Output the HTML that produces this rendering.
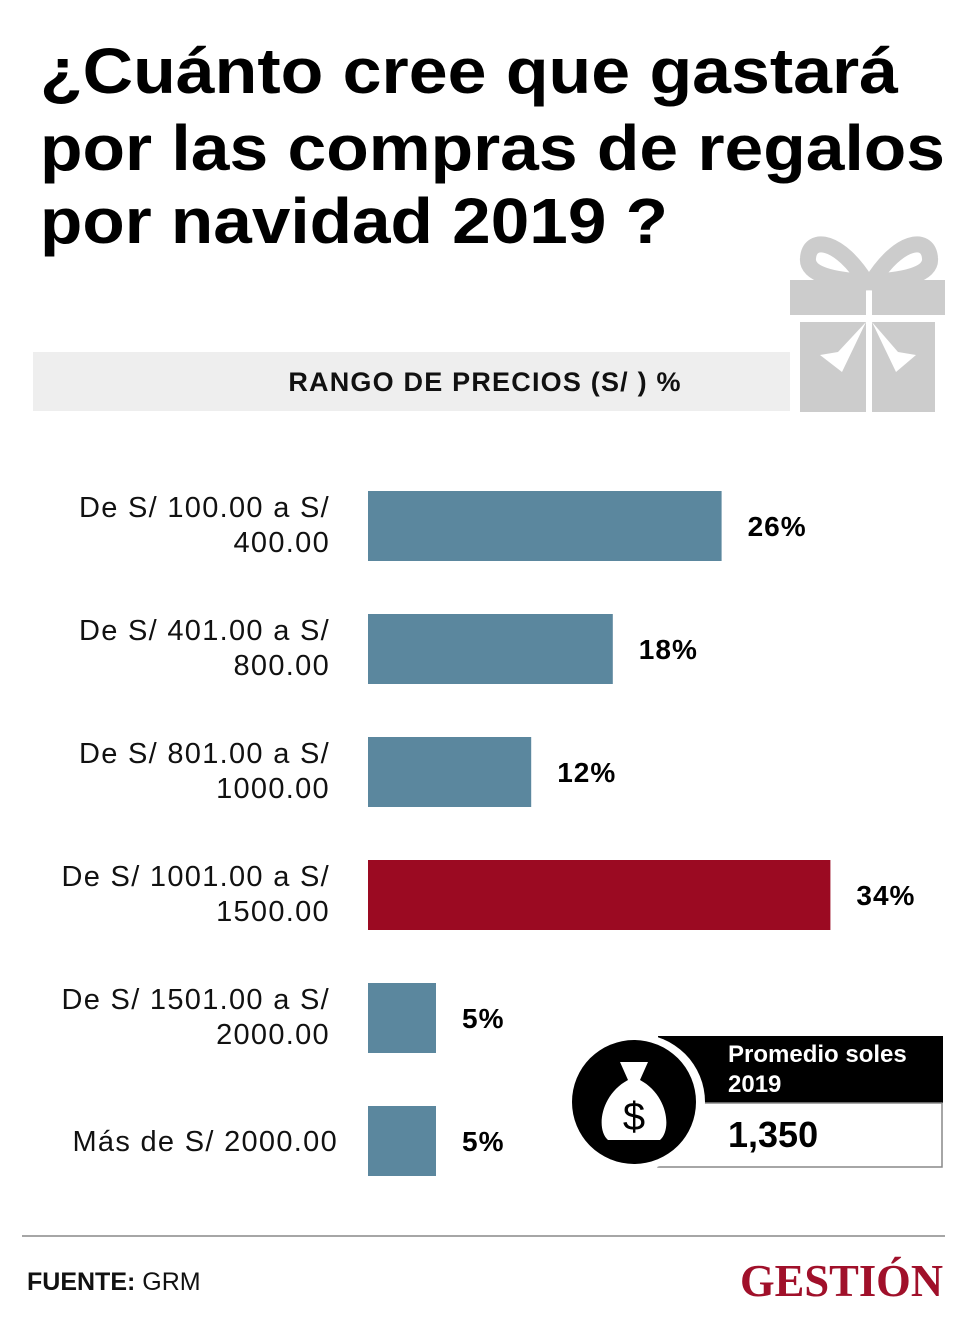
<!DOCTYPE html>
<html><head><meta charset="utf-8"><style>
html,body{margin:0;padding:0;background:#fff;}
svg{display:block;font-family:"Liberation Sans",sans-serif;}
</style></head><body>
<svg id="chart" width="980" height="1328" viewBox="0 0 980 1328" xmlns="http://www.w3.org/2000/svg">
<g font-weight="bold" font-size="64" fill="#000">
<text x="40" y="93" textLength="858" lengthAdjust="spacingAndGlyphs">¿Cuánto cree que gastará</text>
<text x="40" y="170" textLength="905" lengthAdjust="spacingAndGlyphs">por las compras de regalos</text>
<text x="40" y="243" textLength="628" lengthAdjust="spacingAndGlyphs">por navidad 2019 ?</text>
</g>
<rect x="33" y="352" width="757" height="59" fill="#eeeeee"/>
<text x="485" y="391" text-anchor="middle" font-weight="bold" font-size="27" letter-spacing="1.2" fill="#111">RANGO DE PRECIOS (S/ ) %</text>
<g fill="#cccccc">
<path d="M866 282 C840 240 810 235 808 258 C806 275 835 280 866 282 Z" fill="none" stroke="#cccccc" stroke-width="16"/>
<path d="M872 282 C898 240 928 235 930 258 C932 275 903 280 872 282 Z" fill="none" stroke="#cccccc" stroke-width="16"/>
<rect x="790" y="280" width="76" height="35"/>
<rect x="872" y="280" width="73" height="35"/>
<rect x="800" y="322" width="66" height="90"/>
<rect x="872" y="322" width="63" height="90"/>
<path d="M866 322 L838 352 L820 355 L842 372 Z M872 322 L898 352 L916 355 L896 372 Z" fill="#fff"/>
</g>
<g id="bars"></g>
<g>
<rect x="658" y="1036" width="285" height="67" fill="#000"/>
<rect x="658" y="1103" width="284" height="64" fill="#fff" stroke="#888" stroke-width="1.5"/>
<circle cx="637" cy="1102" r="68" fill="#fff"/>
<circle cx="634" cy="1102" r="62" fill="#000"/>
<path d="M620 1062 L648 1062 L640 1080 C668 1095 672 1130 660 1140 L608 1140 C596 1130 600 1095 628 1080 Z" fill="#fff"/>
<text x="634" y="1130" text-anchor="middle" font-size="40" fill="#000">$</text>
<text x="728" y="1062" font-weight="bold" font-size="24" fill="#fff">Promedio soles</text>
<text x="728" y="1092" font-weight="bold" font-size="24" fill="#fff">2019</text>
<text x="728" y="1147" font-weight="bold" font-size="36" fill="#000">1,350</text>
</g>
<line x1="22" y1="1236" x2="945" y2="1236" stroke="#888" stroke-width="1.5"/>
<text x="27" y="1290" font-size="25" fill="#111"><tspan font-weight="bold">FUENTE:</tspan> GRM</text>
<text x="943" y="1296" text-anchor="end" font-family="Liberation Serif,serif" font-weight="bold" font-size="46" fill="#a0102a" textLength="203" lengthAdjust="spacingAndGlyphs">GESTIÓN</text>
</svg>
<script>
const categories = [["De S/ 100.00 a S/","400.00"],["De S/ 401.00 a S/","800.00"],["De S/ 801.00 a S/","1000.00"],["De S/ 1001.00 a S/","1500.00"],["De S/ 1501.00 a S/","2000.00"],["Más de S/ 2000.00"]];
const values = [26, 18, 12, 34, 5, 5];
const highlight = [false, false, false, true, false, false];
const NS = "http://www.w3.org/2000/svg";
const x0 = 368, pxPer = 13.6, y0 = 491, step = 123, bh = 70;
function xScale(v){ return v * pxPer; }
function yPos(i){ return y0 + i * step; }
const g = document.getElementById("bars");
values.forEach((v, i) => {
  const y = yPos(i);
  const r = document.createElementNS(NS, "rect");
  
  
  r.setAttribute("x", x0); r.setAttribute("y", y);
  r.setAttribute("width", xScale(v)); r.setAttribute("height", bh);
  r.setAttribute("fill", highlight[i] ? "#9b0a22" : "#5b879e");
  g.appendChild(r);
  const t = document.createElementNS(NS, "text");
  
  
  t.setAttribute("x", x0 + xScale(v) + 26); t.setAttribute("y", y + bh/2 + 10);
  t.setAttribute("font-weight", "bold"); t.setAttribute("font-size", "28"); t.setAttribute("letter-spacing", "1");
  t.textContent = v + "%";
  g.appendChild(t);
  const lines = categories[i];
  const lab = document.createElementNS(NS, "text");
  
  
  lab.setAttribute("text-anchor", "end"); lab.setAttribute("font-size", "29"); lab.setAttribute("letter-spacing", "1.3"); lab.setAttribute("fill", "#111");
  const xr = lines.length === 1 ? 338 : 330;
  lines.forEach((ln, j) => {
    const s = document.createElementNS(NS, "tspan");
    s.setAttribute("x", xr);
    s.setAttribute("y", lines.length === 1 ? y + bh/2 + 10 : y + 26 + j * 35);
    s.textContent = ln;
    lab.appendChild(s);
  });
  g.appendChild(lab);
});
</script>
</body></html>
